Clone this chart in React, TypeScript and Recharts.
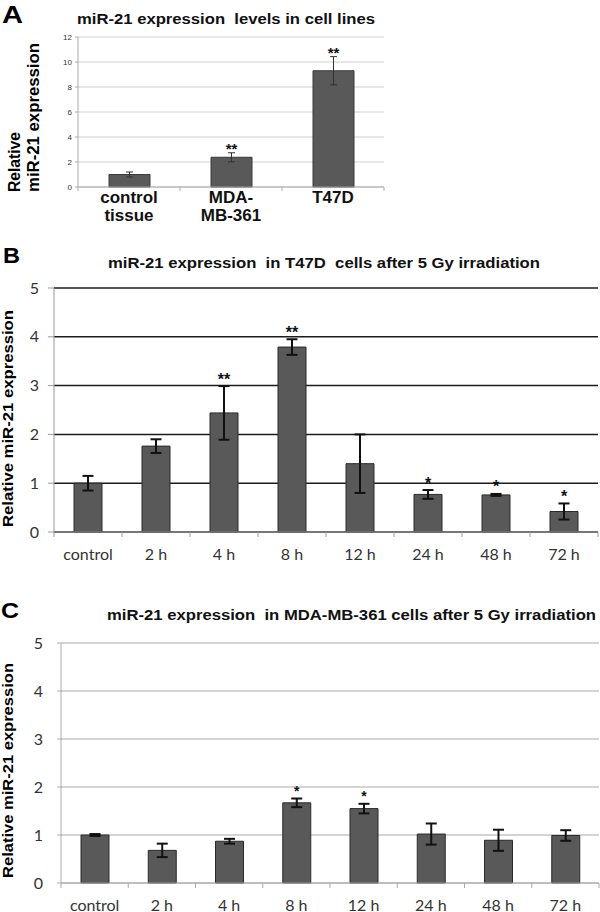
import React from 'react';
import { BarChart, Bar, XAxis, YAxis, CartesianGrid, ErrorBar, LabelList } from 'recharts';

// Panel A: cell lines
const cellLines = ['control\ntissue', 'MDA-\nMB-361', 'T47D'];
const cellLineValues = [1.0, 2.38, 9.3];
const cellLineErrors = [0.2, 0.36, 1.13];
const cellLineStars = ['', '**', '**'];
const cellLineYTicks = [0, 2, 4, 6, 8, 10, 12];

// Panels B and C: time points
const timePoints = ['control', '2 h', '4 h', '8 h', '12 h', '24 h', '48 h', '72 h'];
const t47dValues = [1.0, 1.76, 2.44, 3.79, 1.4, 0.77, 0.76, 0.42];
const t47dErrors = [0.15, 0.14, 0.55, 0.16, 0.6, 0.09, 0.02, 0.165];
const t47dStars = ['', '', '**', '**', '', '*', '*', '*'];
const mdaValues = [1.0, 0.68, 0.87, 1.67, 1.55, 1.02, 0.89, 0.99];
const mdaErrors = [0.02, 0.14, 0.05, 0.09, 0.1, 0.22, 0.22, 0.11];
const mdaStars = ['', '', '', '*', '*', '', '', ''];
const timeYTicks = [0, 1, 2, 3, 4, 5];

const build = (cats: string[], vals: number[], errs: number[], stars: string[]) =>
  cats.map((c, i) => ({ name: c, value: vals[i], err: errs[i], star: stars[i] }));

const dataA = build(cellLines, cellLineValues, cellLineErrors, cellLineStars);
const dataB = build(timePoints, t47dValues, t47dErrors, t47dStars);
const dataC = build(timePoints, mdaValues, mdaErrors, mdaStars);

const ARIAL = '"Liberation Sans", Arial, sans-serif';
const CAL = 'Lato, "Open Sans", sans-serif';

const starContent = (vals: number[], errs: number[], fontSize: number, dy: number) => (p: any) => {
  const { value, index } = p;
  if (!value) return null;
  const x = Number(p.x), y = Number(p.y), width = Number(p.width), height = Number(p.height);
  const ppu = height / vals[index];
  const top = y - errs[index] * ppu;
  return (
    <text x={x + width / 2} y={top + dy} textAnchor="middle" fontFamily={ARIAL} fontWeight="bold" fontSize={fontSize} fill="#111">
      {value}
    </text>
  );
};

const TimeTick = (props: any) => {
  const { x, y, payload, index, bw, n, color, dy } = props;
  const cx = Number(x), cy = Number(y);
  return (
    <g>
      <line x1={cx - bw / 2} x2={cx - bw / 2} y1={cy} y2={cy + 5} stroke={color} strokeWidth={1} />
      {index === n - 1 && <line x1={cx + bw / 2} x2={cx + bw / 2} y1={cy} y2={cy + 5} stroke={color} strokeWidth={1} />}
      <text x={cx} y={cy + dy} textAnchor="middle" fontFamily={CAL} fontSize={16} fill="#333">
        {payload.value}
      </text>
    </g>
  );
};

const CellTick = (props: any) => {
  const { x, y, payload, index, bw, n } = props;
  const cx = Number(x), cy = Number(y);
  const lines = String(payload.value).split('\n');
  return (
    <g>
      <line x1={cx - bw / 2} x2={cx - bw / 2} y1={cy} y2={cy + 4} stroke="#aaa" strokeWidth={1} />
      {index === n - 1 && <line x1={cx + bw / 2} x2={cx + bw / 2} y1={cy} y2={cy + 4} stroke="#aaa" strokeWidth={1} />}
      <text textAnchor="middle" fontFamily={ARIAL} fontWeight="bold" fontSize={17} fill="#111">
        {lines.map((l, i) => (
          <tspan key={i} x={cx} y={cy + 15.5 + i * 18}>{l}</tspan>
        ))}
      </text>
    </g>
  );
};

const ChartA = () => (
  <BarChart width={600} height={230} data={dataA} margin={{ top: 37, right: 216, bottom: 0, left: 0 }}>
    <CartesianGrid vertical={false} stroke="#cfcfcf" strokeWidth={1} />
    <XAxis dataKey="name" height={43} interval={0} tickSize={0} tickMargin={0} tickLine={false}
      axisLine={{ stroke: '#aaa' }} tick={(p: any) => <CellTick {...p} bw={102} n={3} />} />
    <YAxis width={78} domain={[0, 12]} ticks={cellLineYTicks} tickSize={3} tickMargin={3}
      axisLine={{ stroke: '#aaa' }} tickLine={{ stroke: '#aaa' }}
      tick={{ fontFamily: ARIAL, fontSize: 8, fill: '#333' }} />
    <YAxis yAxisId="r" orientation="right" width={0} domain={[0, 12]} tick={false} tickLine={false} axisLine={{ stroke: '#bbb' }} />
    <Bar dataKey="value" fill="#595959" stroke="#3a3a3a" strokeWidth={1} barSize={41} isAnimationActive={false}>
      <ErrorBar dataKey="err" width={3.5} strokeWidth={1} stroke="#333" isAnimationActive={false} />
      <LabelList dataKey="star" content={starContent(cellLineValues, cellLineErrors, 15, 1)} />
    </Bar>
  </BarChart>
);

const ChartB = () => (
  <BarChart width={600} height={350} data={dataB} margin={{ top: 58, right: 2, bottom: 0, left: 0 }}>
    <CartesianGrid vertical={false} stroke="#1c1c1c" strokeWidth={1.5} />
    <XAxis dataKey="name" height={48} interval={0} tickSize={0} tickMargin={0} tickLine={false}
      axisLine={{ stroke: '#999' }} tick={(p: any) => <TimeTick {...p} bw={68} n={8} color="#999" dy={28} />} />
    <YAxis width={54} domain={[0, 5]} ticks={timeYTicks} tickSize={6} tickMargin={9}
      axisLine={{ stroke: '#999' }} tickLine={{ stroke: '#999' }}
      tick={{ fontFamily: CAL, fontSize: 16, fill: '#333' }} />
    <YAxis yAxisId="r" orientation="right" width={0} domain={[0, 5]} tick={false} tickLine={false} axisLine={{ stroke: '#888', strokeWidth: 1.5 }} />
    <Bar dataKey="value" fill="#595959" stroke="#2a2a2a" strokeWidth={1} barSize={28} isAnimationActive={false}>
      <ErrorBar dataKey="err" width={5.5} strokeWidth={2} stroke="#111" isAnimationActive={false} />
      <LabelList dataKey="star" content={starContent(t47dValues, t47dErrors, 16, -1.5)} />
    </Bar>
  </BarChart>
);

const ChartC = () => (
  <BarChart width={600} height={332} data={dataC} margin={{ top: 63, right: 1, bottom: 0, left: 0 }}>
    <CartesianGrid vertical={false} stroke="#a8a8a8" strokeWidth={1} />
    <XAxis dataKey="name" height={29} interval={0} tickSize={0} tickMargin={0} tickLine={false}
      axisLine={{ stroke: '#aaa' }} tick={(p: any) => <TimeTick {...p} bw={67.25} n={8} color="#aaa" dy={27.5} />} />
    <YAxis width={61} domain={[0, 5]} ticks={timeYTicks} tickSize={4} tickMargin={14}
      axisLine={{ stroke: '#aaa' }} tickLine={{ stroke: '#aaa' }}
      tick={{ fontFamily: CAL, fontSize: 16, fill: '#333' }} />
    <YAxis yAxisId="r" orientation="right" width={0} domain={[0, 5]} tick={false} tickLine={false} axisLine={{ stroke: '#444', strokeWidth: 2 }} />
    <Bar dataKey="value" fill="#595959" stroke="#2a2a2a" strokeWidth={1} barSize={28} isAnimationActive={false}>
      <ErrorBar dataKey="err" width={5.5} strokeWidth={2} stroke="#111" isAnimationActive={false} />
      <LabelList dataKey="star" content={starContent(mdaValues, mdaErrors, 14, -3)} />
    </Bar>
  </BarChart>
);

const pre: React.CSSProperties = { whiteSpace: 'pre' };

const Overlay = () => (
  <svg width={600} height={912} style={{ position: 'absolute', left: 0, top: 0, pointerEvents: 'none' }}>
    <g fontFamily={ARIAL} fontWeight="bold" fill="#000">
      <text x={2} y={23} fontSize={24} textLength={21} lengthAdjust="spacingAndGlyphs">A</text>
      <text x={3} y={263} fontSize={22} textLength={17} lengthAdjust="spacingAndGlyphs">B</text>
      <text x={1} y={618} fontSize={22} textLength={18} lengthAdjust="spacingAndGlyphs">C</text>
      <text x={77} y={24} fontSize={14} style={pre} textLength={298} lengthAdjust="spacingAndGlyphs" fill="#111">{'miR-21 expression  levels in cell lines'}</text>
      <text x={108} y={268} fontSize={14} style={pre} textLength={432} lengthAdjust="spacingAndGlyphs" fill="#111">{'miR-21 expression  in T47D  cells after 5 Gy irradiation'}</text>
      <text x={107} y={620} fontSize={14} style={pre} textLength={489} lengthAdjust="spacingAndGlyphs" fill="#111">{'miR-21 expression  in MDA-MB-361 cells after 5 Gy irradiation'}</text>
      <text transform="translate(20,192) rotate(-90)" fontSize={16} textLength={60} lengthAdjust="spacingAndGlyphs">Relative</text>
      <text transform="translate(38.5,192) rotate(-90)" fontSize={16} textLength={149} lengthAdjust="spacingAndGlyphs">miR-21 expression</text>
      <text transform="translate(13,527) rotate(-90)" fontSize={14} textLength={217} lengthAdjust="spacingAndGlyphs">Relative miR-21 expression</text>
      <text transform="translate(13,878) rotate(-90)" fontSize={14} textLength={215} lengthAdjust="spacingAndGlyphs">Relative miR-21 expression</text>
    </g>
  </svg>
);

export default function App() {
  return (
    <div style={{ position: 'absolute', left: 0, top: 0, width: 600, height: 912, background: '#fff' }}>
      <div style={{ position: 'absolute', left: 0, top: 0 }}><ChartA /></div>
      <div style={{ position: 'absolute', left: 0, top: 230 }}><ChartB /></div>
      <div style={{ position: 'absolute', left: 0, top: 580 }}><ChartC /></div>
      <Overlay />
    </div>
  );
}
